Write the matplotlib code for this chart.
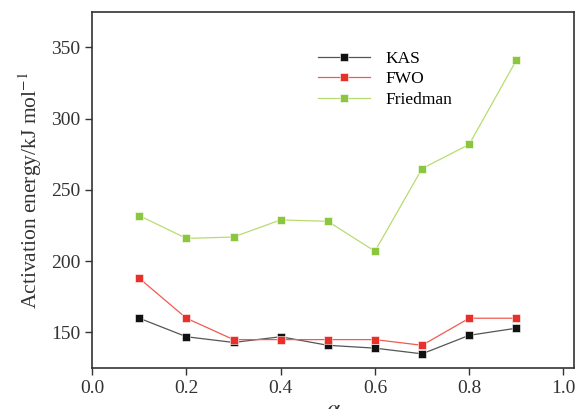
import numpy as np
import matplotlib.pyplot as plt

plt.rcParams['font.family'] = ['Liberation Serif', 'DejaVu Serif']
plt.rcParams['mathtext.fontset'] = 'stix'

alpha = [0.1, 0.2, 0.3, 0.4, 0.5, 0.6, 0.7, 0.8, 0.9]
kas = [160, 147, 143, 147, 141, 139, 135, 148, 153]
fwo = [188, 160, 145, 145, 145, 145, 141, 160, 160]
friedman = [232, 216, 217, 229, 228, 207, 265, 282, 341]

fig = plt.figure(figsize=(5.76, 4.09), dpi=100)
ax = fig.add_axes([0.16, 0.1, 0.837, 0.871])

ax.plot(alpha, kas, color='#555555', lw=0.9, marker='s', ms=5.5,
        mfc='#111111', mec='white', mew=0.4, label='KAS')
ax.plot(alpha, fwo, color='#f05a50', lw=0.9, marker='s', ms=5.5,
        mfc='#e8302a', mec='white', mew=0.4, label='FWO')
ax.plot(alpha, friedman, color='#b8dc70', lw=0.9, marker='s', ms=5.5,
        mfc='#8cc63f', mec='white', mew=0.4, label='Friedman')

ax.set_xlim(0, 1.023)
ax.set_ylim(125, 375)
ax.set_xticks([0.0, 0.2, 0.4, 0.6, 0.8, 1.0])
ax.set_yticks([150, 200, 250, 300, 350])
ax.tick_params(direction='out', length=5, width=1, labelsize=14, colors='#333333')
for s in ax.spines.values():
    s.set_linewidth(1.2)
    s.set_color('#333333')

ax.set_ylabel('Activation energy/kJ mol$^{-1}$', fontsize=15.5, color='#333333', labelpad=5)
ax.set_xlabel(r'$\alpha$', fontsize=17, color='#333333', labelpad=2)

ax.legend(loc='upper left', bbox_to_anchor=(0.435, 0.935), frameon=False,
          fontsize=12.5, handlelength=3.0, labelspacing=0.25, handletextpad=0.9)

fig.savefig('out.png', dpi=100)
